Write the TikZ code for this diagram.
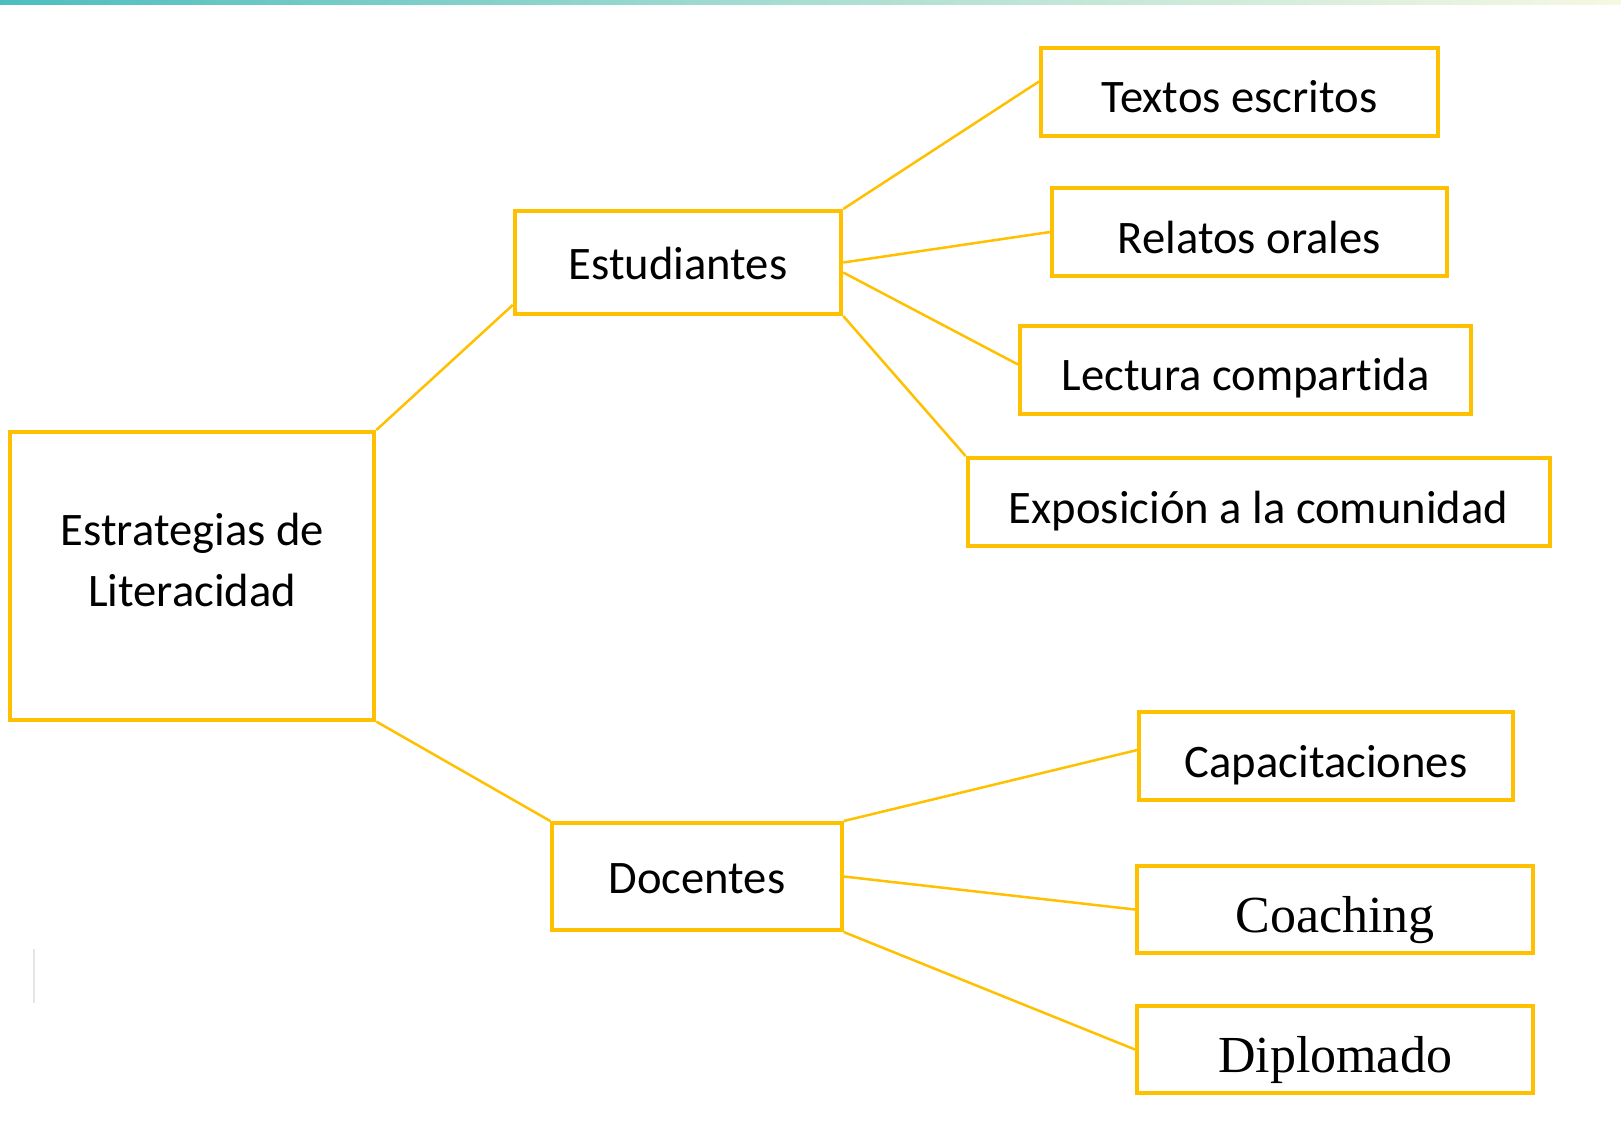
\documentclass[tikz,border=0pt]{standalone}
\usepackage{fontspec}
\setmainfont{Carlito}[Ligatures=NoCommon]
\newfontfamily\timesfont{Liberation Serif}
\definecolor{oro}{HTML}{FFC000}
\definecolor{tealbar}{RGB}{77,190,190}
\definecolor{palebar}{RGB}{246,248,226}
\begin{document}
\begin{tikzpicture}[x=0.5pt,y=-0.5pt,
	caja/.style={draw=oro, line width=2pt, inner sep=0pt, font=\fontsize{23.3}{30.5}\selectfont, align=center},
	hoja/.style={caja, text height=24pt, text depth=3pt},
	hojat/.style={caja, text height=26pt, text depth=3.4pt, font=\timesfont\fontsize{26}{30}\selectfont},
	rama/.style={draw=oro, line width=1.25pt}]
	\useasboundingbox (0,0) rectangle (1621,1146);
	\shade[left color=tealbar, right color=palebar, middle color=tealbar!45!palebar] (0,0) rectangle (1621,4);
	\draw[black!10, line width=0.8pt] (34,949) -- (34,1003);
	\node[caja, minimum width=182pt, minimum height=143.75pt] (estr) at (192.3,575.8) {Estrategias de\\Literacidad\\[-15pt]};
	\node[caja, text height=17pt, text depth=0pt, minimum width=163.25pt, minimum height=51.5pt] (stud) at (678,262.5) {Estudiantes};
	\node[caja, text height=17pt, text depth=0pt, minimum width=144.75pt, minimum height=53.5pt] (doc) at (697,876.5) {Docentes};
	\node[hoja, minimum width=198.5pt, minimum height=44pt] (tex) at (1239.5,91.5) {Textos escritos};
	\node[hoja, minimum width=197.5pt, minimum height=44pt] (rel) at (1249.5,232) {Relatos orales};
	\node[hoja, minimum width=225.5pt, minimum height=44pt] (lec) at (1245.5,369.5) {Lectura compartida};
	\node[hoja, minimum width=291pt, minimum height=44pt] (expo) at (1258.6,502) {Exposición a la comunidad};
	\node[hoja, minimum width=186.75pt, minimum height=44pt] (cap) at (1326,756) {Capacitaciones};
	\node[hojat, minimum width=198pt, minimum height=43.5pt] (coa) at (1335,909.5) {Coaching};
	\node[hojat, minimum width=198pt, minimum height=43.5pt] (dip) at (1335,1049.5) {Diplomado};
	\draw[rama] (estr.north east) -- ([yshift=5.5pt]stud.south west);
	\draw[rama] (estr.south east) -- (doc.north west);
	\draw[rama] (stud.north east) -- ([yshift=5pt]tex.west);
	\draw[rama] (stud.east) -- (rel.west);
	\draw[rama] ([yshift=-5pt]stud.east) -- ([yshift=2.5pt]lec.west);
	\draw[rama] (stud.south east) -- (expo.north west);
	\draw[rama] (doc.north east) -- ([yshift=3pt]cap.west);
	\draw[rama] (doc.east) -- (coa.west);
	\draw[rama] (doc.south east) -- (dip.west);
\end{tikzpicture}
\end{document}
